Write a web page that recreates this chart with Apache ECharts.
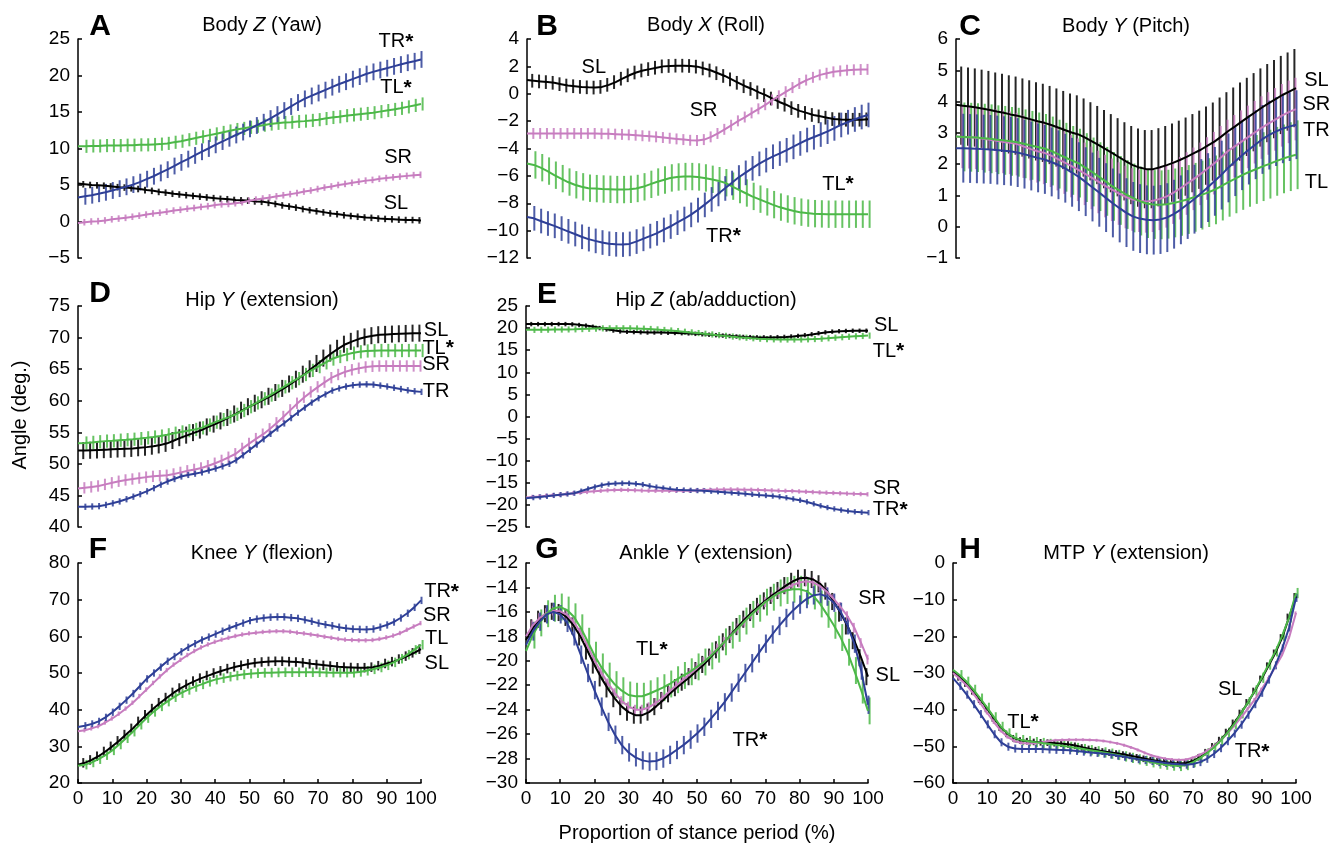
<!DOCTYPE html>
<html>
<head>
<meta charset="utf-8">
<script src="https://cdn.jsdelivr.net/npm/echarts@6/dist/echarts.min.js"></script>
<style>
  html, body { margin: 0; background: #fff; }
  #main { width: 1332px; height: 846px; }
</style>
</head>
<body>
<div id="main"></div>
<script>
// proportion of stance period (%), one sample every 2 %
const pct = [0,2,4,6,8,10,12,14,16,18,20,22,24,26,28,30,32,34,36,38,40,42,44,46,48,50,
  52,54,56,58,60,62,64,66,68,70,72,74,76,78,80,82,84,86,88,90,92,94,96,98,100];
const xTicks = [0,10,20,30,40,50,60,70,80,90,100];

// A  Body Z (yaw)
const yawSL = [5.2,5.1,5.0,4.95,4.9,4.8,4.7,4.65,4.55,4.45,4.3,4.2,4.05,3.95,3.8,3.7,3.6,3.5,3.4,3.3,3.2,3.1,3.05,2.95,2.9,2.85,2.75,2.7,2.55,2.4,2.2,2.05,1.9,1.7,1.55,1.4,1.25,1.1,1.0,0.85,0.75,0.65,0.55,0.5,0.4,0.35,0.3,0.25,0.2,0.2,0.15];
const yawSR = [-0.2,-0.1,0.0,0.05,0.15,0.3,0.4,0.5,0.65,0.8,0.95,1.1,1.2,1.35,1.5,1.6,1.75,1.85,2.0,2.1,2.25,2.35,2.4,2.5,2.65,2.85,3.0,3.15,3.3,3.45,3.6,3.75,3.9,4.1,4.25,4.45,4.65,4.8,5.0,5.15,5.3,5.45,5.6,5.7,5.85,5.95,6.05,6.15,6.25,6.35,6.4];
const yawTL = [10.3,10.3,10.35,10.35,10.4,10.4,10.4,10.45,10.45,10.5,10.5,10.55,10.6,10.7,10.85,11.0,11.2,11.4,11.6,11.8,12.0,12.2,12.4,12.6,12.75,12.9,13.05,13.2,13.35,13.45,13.55,13.6,13.7,13.75,13.85,13.95,14.1,14.25,14.35,14.5,14.6,14.7,14.8,14.9,15.05,15.2,15.35,15.5,15.7,15.9,16.1];
const yawTR = [3.3,3.45,3.6,3.8,4.0,4.25,4.5,4.75,5.05,5.4,5.8,6.2,6.65,7.1,7.6,8.1,8.55,9.05,9.55,10.0,10.5,10.95,11.4,11.85,12.25,12.7,13.15,13.6,14.1,14.65,15.2,15.75,16.3,16.8,17.2,17.6,18.0,18.4,18.8,19.15,19.5,19.85,20.2,20.5,20.75,21.0,21.25,21.5,21.75,21.95,22.2];
const yawSD = [0.45, 0.45, 0.9, 1.15];
const yawTicks = [-5,0,5,10,15,20,25];

// B  Body X (roll)
const rollSL = [1.0,0.95,0.9,0.85,0.8,0.7,0.6,0.55,0.5,0.47,0.45,0.5,0.65,0.85,1.1,1.35,1.55,1.7,1.8,1.9,2.0,2.03,2.05,2.05,2.03,1.98,1.85,1.7,1.5,1.3,1.05,0.8,0.55,0.35,0.1,-0.1,-0.35,-0.6,-0.8,-1.05,-1.25,-1.4,-1.55,-1.65,-1.75,-1.85,-1.88,-1.9,-1.9,-1.9,-1.87];
const rollSR = [-2.9,-2.9,-2.9,-2.9,-2.9,-2.9,-2.9,-2.9,-2.9,-2.9,-2.9,-2.92,-2.93,-2.95,-2.97,-3.0,-3.03,-3.07,-3.1,-3.15,-3.2,-3.25,-3.3,-3.35,-3.4,-3.42,-3.35,-3.15,-2.9,-2.6,-2.3,-1.98,-1.7,-1.4,-1.1,-0.8,-0.45,-0.15,0.15,0.45,0.75,1.0,1.2,1.38,1.5,1.6,1.67,1.72,1.75,1.77,1.78];
const rollTL = [-5.1,-5.2,-5.4,-5.65,-5.95,-6.2,-6.45,-6.65,-6.8,-6.9,-6.93,-6.96,-6.98,-7.0,-7.0,-6.98,-6.92,-6.8,-6.62,-6.45,-6.3,-6.15,-6.08,-6.05,-6.05,-6.08,-6.15,-6.25,-6.35,-6.5,-6.75,-7.0,-7.25,-7.5,-7.7,-7.9,-8.1,-8.28,-8.42,-8.55,-8.65,-8.72,-8.76,-8.78,-8.8,-8.8,-8.8,-8.8,-8.8,-8.8,-8.8];
const rollTR = [-9.0,-9.1,-9.3,-9.48,-9.65,-9.85,-10.05,-10.25,-10.45,-10.62,-10.75,-10.87,-10.96,-11.0,-11.02,-10.97,-10.8,-10.6,-10.4,-10.2,-9.95,-9.7,-9.42,-9.15,-8.85,-8.5,-8.12,-7.72,-7.32,-6.92,-6.52,-6.12,-5.78,-5.45,-5.12,-4.85,-4.6,-4.37,-4.13,-3.88,-3.63,-3.38,-3.18,-2.98,-2.77,-2.53,-2.28,-2.08,-1.88,-1.7,-1.55];
const rollSD = [0.5, 0.4, 1.0, 0.9];
const rollTicks = [-12,-10,-8,-6,-4,-2,0,2,4];

// C  Body Y (pitch)
const pitchSL = [3.9,3.87,3.84,3.81,3.77,3.73,3.68,3.64,3.59,3.55,3.49,3.43,3.37,3.32,3.25,3.17,3.09,3.01,2.95,2.85,2.73,2.61,2.48,2.35,2.22,2.09,1.97,1.89,1.84,1.84,1.9,1.97,2.05,2.14,2.24,2.35,2.46,2.59,2.72,2.88,3.05,3.2,3.36,3.51,3.66,3.81,3.95,4.08,4.21,4.32,4.43];
const pitchSR = [2.88,2.87,2.86,2.84,2.81,2.78,2.75,2.71,2.68,2.64,2.56,2.48,2.41,2.36,2.27,2.16,2.05,1.94,1.82,1.69,1.56,1.43,1.3,1.18,1.06,0.95,0.87,0.83,0.81,0.83,0.89,0.97,1.09,1.23,1.38,1.53,1.69,1.86,2.03,2.22,2.42,2.57,2.72,2.87,3.02,3.17,3.3,3.43,3.56,3.67,3.76];
const pitchTL = [2.88,2.87,2.86,2.85,2.83,2.81,2.78,2.76,2.73,2.7,2.65,2.6,2.55,2.5,2.42,2.32,2.22,2.12,2.03,1.89,1.75,1.6,1.45,1.29,1.16,1.03,0.92,0.82,0.74,0.71,0.7,0.72,0.76,0.81,0.87,0.94,1.01,1.09,1.18,1.3,1.42,1.53,1.64,1.74,1.83,1.92,2.0,2.09,2.17,2.24,2.3];
const pitchTR = [2.51,2.51,2.5,2.49,2.48,2.47,2.45,2.43,2.41,2.37,2.32,2.26,2.2,2.15,2.07,1.98,1.87,1.74,1.6,1.44,1.27,1.1,0.93,0.76,0.6,0.45,0.33,0.26,0.22,0.21,0.23,0.29,0.4,0.54,0.71,0.88,1.06,1.25,1.45,1.65,1.88,2.08,2.27,2.45,2.62,2.79,2.93,3.04,3.13,3.2,3.26];
const pitchSD = [1.25, 1.0, 1.1, 1.1];
const pitchTicks = [-1,0,1,2,3,4,5,6];

// D  Hip Y (extension)
const hipYSL = [52.1,52.1,52.15,52.2,52.25,52.3,52.35,52.4,52.45,52.55,52.65,52.8,53.0,53.25,53.7,54.15,54.55,54.95,55.35,55.85,56.3,56.8,57.35,57.9,58.5,59.05,59.6,60.15,60.7,61.3,61.95,62.65,63.4,64.2,65.05,65.9,66.75,67.55,68.3,68.95,69.4,69.8,70.1,70.3,70.45,70.5,70.55,70.6,70.65,70.7,70.7];
const hipYSR = [46.1,46.2,46.35,46.5,46.75,47.0,47.25,47.45,47.6,47.75,47.9,48.02,48.12,48.2,48.4,48.65,48.9,49.12,49.35,49.7,50.1,50.55,51.05,51.6,52.45,53.25,54.0,54.7,55.55,56.5,57.5,58.55,59.6,60.55,61.4,62.2,62.95,63.65,64.15,64.6,64.9,65.15,65.35,65.45,65.5,65.5,65.5,65.5,65.5,65.5,65.5];
const hipYTL = [53.25,53.3,53.4,53.5,53.6,53.65,53.75,53.82,53.9,54.0,54.12,54.25,54.4,54.6,54.85,55.05,55.25,55.45,55.7,56.15,56.6,57.0,57.4,57.85,58.45,59.05,59.65,60.3,60.9,61.55,62.2,62.85,63.5,64.15,64.8,65.4,66.0,66.6,67.0,67.3,67.55,67.75,67.88,67.92,67.95,67.95,67.95,67.95,67.95,67.95,67.95];
const hipYTR = [43.2,43.2,43.25,43.3,43.5,43.75,44.05,44.4,44.8,45.2,45.65,46.15,46.7,47.2,47.6,48.0,48.25,48.45,48.65,48.95,49.25,49.6,50.0,50.55,51.35,52.2,53.05,53.9,54.75,55.6,56.4,57.25,58.1,58.9,59.7,60.4,61.0,61.6,61.95,62.25,62.45,62.55,62.6,62.55,62.4,62.25,62.05,61.85,61.65,61.5,61.4];
const hipYSD = [1.35, 0.9, 1.05, 0.5];
const hipYTicks = [40,45,50,55,60,65,70,75];

// E  Hip Z (ab/adduction)
const hipZSL = [20.9,20.9,20.9,20.9,20.9,20.9,20.9,20.85,20.7,20.55,20.3,20.0,19.7,19.45,19.25,19.15,19.1,19.05,19.0,19.0,18.98,18.95,18.9,18.85,18.8,18.7,18.6,18.5,18.4,18.3,18.2,18.1,18.0,17.95,17.9,17.9,17.9,17.95,18.0,18.1,18.25,18.4,18.6,18.85,19.05,19.2,19.3,19.35,19.4,19.4,19.4];
const hipZSR = [-18.3,-18.2,-18.1,-17.95,-17.8,-17.68,-17.52,-17.36,-17.2,-17.05,-16.92,-16.8,-16.7,-16.64,-16.6,-16.62,-16.68,-16.74,-16.78,-16.8,-16.8,-16.8,-16.8,-16.8,-16.78,-16.72,-16.65,-16.58,-16.52,-16.5,-16.5,-16.52,-16.55,-16.58,-16.62,-16.67,-16.72,-16.78,-16.83,-16.88,-16.95,-17.02,-17.1,-17.17,-17.24,-17.3,-17.37,-17.44,-17.5,-17.55,-17.6];
const hipZTL = [19.6,19.6,19.62,19.64,19.66,19.68,19.7,19.72,19.78,19.84,19.9,19.94,19.95,19.96,19.96,19.95,19.92,19.88,19.8,19.7,19.58,19.46,19.33,19.18,19.03,18.88,18.72,18.56,18.4,18.24,18.08,17.94,17.82,17.7,17.6,17.52,17.46,17.43,17.42,17.42,17.43,17.46,17.52,17.6,17.7,17.82,17.93,18.04,18.14,18.22,18.3];
const hipZTR = [-18.5,-18.35,-18.2,-18.05,-17.85,-17.68,-17.52,-17.35,-16.9,-16.4,-15.95,-15.55,-15.28,-15.15,-15.1,-15.12,-15.22,-15.4,-15.7,-15.98,-16.2,-16.42,-16.56,-16.64,-16.7,-16.76,-16.82,-16.9,-17.0,-17.12,-17.25,-17.37,-17.5,-17.62,-17.75,-17.87,-18.0,-18.15,-18.38,-18.65,-18.95,-19.3,-19.75,-20.2,-20.6,-20.9,-21.17,-21.38,-21.55,-21.67,-21.75];
const hipZSD = [0.5, 0.5, 0.7, 0.6];
const hipZTicks = [-25,-20,-15,-10,-5,0,5,10,15,20,25];

// F  Knee Y (flexion)
const kneeSL = [25.0,25.5,26.3,27.3,28.6,30.0,31.5,33.2,34.9,36.8,38.6,40.3,41.9,43.3,44.7,45.9,46.9,47.8,48.6,49.3,50.0,50.6,51.2,51.7,52.1,52.5,52.8,53.0,53.15,53.2,53.2,53.1,53.0,52.8,52.5,52.3,52.1,51.9,51.7,51.6,51.5,51.4,51.45,51.6,52.0,52.6,53.1,53.8,54.6,55.5,56.5];
const kneeSR = [34.1,34.4,34.9,35.5,36.5,37.6,38.9,40.3,41.9,43.7,45.5,47.3,49.1,50.8,52.3,53.6,54.9,56.0,57.0,57.8,58.5,59.1,59.6,60.1,60.5,60.8,61.0,61.2,61.35,61.4,61.4,61.25,61.0,60.8,60.5,60.2,59.9,59.6,59.3,59.1,59.0,58.9,58.9,59.0,59.3,59.7,60.2,60.9,61.8,62.7,63.6];
const kneeTL = [24.7,25.0,25.6,26.5,27.6,28.9,30.5,32.2,34.0,35.9,37.7,39.4,40.9,42.2,43.4,44.5,45.4,46.2,46.9,47.6,48.2,48.6,49.0,49.3,49.6,49.8,49.95,50.05,50.1,50.15,50.2,50.2,50.2,50.2,50.2,50.2,50.15,50.1,50.1,50.1,50.1,50.3,50.6,51.0,51.5,52.1,52.9,53.9,55.0,56.3,57.7];
const kneeTR = [35.3,35.6,36.1,36.8,37.9,39.3,40.9,42.6,44.4,46.4,48.4,50.0,51.6,53.2,54.5,55.8,57.0,58.0,59.0,59.8,60.6,61.4,62.2,62.9,63.6,64.3,64.7,65.0,65.2,65.3,65.3,65.1,64.9,64.5,64.1,63.6,63.2,62.9,62.5,62.2,62.0,61.9,61.85,62.0,62.5,63.1,63.9,65.0,66.3,67.9,69.8];
const kneeSD = [1.3, 0.6, 1.3, 1.0];
const kneeTicks = [20,30,40,50,60,70,80];

// G  Ankle Y (extension)
const ankleSL = [-18.3,-17.3,-16.6,-16.15,-15.95,-16.05,-16.45,-17.15,-18.05,-19.2,-20.35,-21.4,-22.3,-23.1,-23.75,-24.2,-24.45,-24.45,-24.2,-23.75,-23.25,-22.7,-22.2,-21.75,-21.3,-20.8,-20.3,-19.7,-19.1,-18.45,-17.85,-17.2,-16.6,-16.05,-15.55,-15.1,-14.65,-14.25,-13.85,-13.5,-13.25,-13.2,-13.35,-13.7,-14.3,-15.15,-16.1,-17.15,-18.35,-19.75,-21.3];
const ankleSR = [-18.0,-17.1,-16.5,-16.1,-15.9,-15.95,-16.25,-16.85,-17.7,-18.8,-19.95,-20.95,-21.85,-22.65,-23.3,-23.75,-24.0,-24.0,-23.8,-23.45,-23.0,-22.5,-22.0,-21.55,-21.05,-20.6,-20.1,-19.55,-19.0,-18.45,-17.9,-17.35,-16.8,-16.2,-15.7,-15.2,-14.8,-14.4,-14.1,-13.8,-13.6,-13.5,-13.6,-13.9,-14.35,-14.95,-15.6,-16.35,-17.3,-18.55,-19.9];
const ankleTL = [-19.2,-17.9,-16.9,-16.15,-15.7,-15.6,-15.85,-16.4,-17.3,-18.4,-19.55,-20.5,-21.25,-21.95,-22.45,-22.8,-22.9,-22.9,-22.7,-22.45,-22.2,-21.9,-21.55,-21.2,-20.9,-20.5,-20.1,-19.6,-19.05,-18.45,-17.9,-17.35,-16.75,-16.2,-15.7,-15.2,-14.8,-14.45,-14.25,-14.15,-14.15,-14.3,-14.7,-15.35,-16.2,-17.1,-18.1,-19.3,-20.8,-22.4,-24.1];
const ankleTR = [-18.7,-17.6,-16.8,-16.2,-16.0,-16.2,-16.9,-18.0,-19.5,-21.0,-22.4,-23.75,-25.0,-26.05,-26.9,-27.5,-27.9,-28.15,-28.25,-28.2,-28.0,-27.7,-27.3,-26.9,-26.45,-25.95,-25.4,-24.75,-24.1,-23.4,-22.6,-21.8,-21.0,-20.2,-19.4,-18.6,-17.85,-17.15,-16.5,-15.9,-15.4,-14.95,-14.65,-14.55,-14.75,-15.25,-16.0,-17.1,-18.6,-20.8,-23.6];
const ankleSD = [0.7, 0.4, 1.1, 0.75];
const ankleTicks = [-30,-28,-26,-24,-22,-20,-18,-16,-14,-12];

// H  MTP Y (extension)
const mtpSL = [-29.8,-31.2,-32.9,-35.0,-37.3,-39.8,-42.4,-44.9,-46.6,-47.8,-48.4,-48.6,-48.8,-48.9,-49.0,-49.15,-49.3,-49.5,-49.85,-50.3,-50.7,-51.05,-51.4,-51.7,-51.95,-52.25,-52.6,-53.0,-53.4,-53.75,-54.05,-54.35,-54.55,-54.65,-54.55,-54.0,-53.0,-51.6,-50.0,-48.3,-46.1,-43.6,-40.9,-38.0,-34.9,-31.6,-28.0,-24.5,-20.3,-14.7,-9.1];
const mtpSR = [-30.0,-31.6,-33.4,-35.7,-38.3,-40.9,-43.5,-45.8,-47.5,-48.6,-49.1,-49.2,-49.15,-48.9,-48.55,-48.35,-48.25,-48.2,-48.2,-48.2,-48.25,-48.35,-48.55,-48.85,-49.2,-49.7,-50.3,-51.0,-51.8,-52.5,-53.0,-53.35,-53.6,-53.7,-53.6,-53.1,-52.3,-51.3,-50.0,-48.4,-46.5,-44.4,-42.1,-39.7,-37.2,-34.4,-31.5,-28.3,-25.0,-20.3,-13.6];
const mtpTL = [-29.1,-30.6,-32.4,-34.6,-37.0,-39.5,-42.1,-44.7,-46.5,-47.7,-48.3,-48.6,-48.85,-49.1,-49.35,-49.6,-49.85,-50.15,-50.45,-50.75,-51.05,-51.35,-51.65,-52.0,-52.35,-52.75,-53.15,-53.55,-53.95,-54.35,-54.7,-55.0,-55.25,-55.35,-55.1,-54.3,-53.2,-51.9,-50.4,-48.5,-46.3,-43.9,-41.0,-38.0,-34.8,-31.3,-27.7,-24.1,-19.8,-14.8,-8.2];
const mtpTR = [-31.4,-33.5,-35.9,-38.5,-41.2,-44.0,-46.7,-48.9,-50.1,-50.6,-50.7,-50.7,-50.7,-50.75,-50.85,-50.95,-51.0,-51.1,-51.25,-51.45,-51.65,-51.8,-52.0,-52.25,-52.55,-52.85,-53.2,-53.5,-53.75,-54.0,-54.3,-54.55,-54.75,-54.9,-55.0,-54.8,-54.3,-53.4,-52.1,-50.5,-48.6,-46.5,-44.1,-41.4,-38.5,-35.4,-31.8,-27.9,-23.3,-17.6,-9.5];
const mtpSD = [0.9, 0.4, 1.4, 1.1];
const mtpTicks = [-60,-50,-40,-30,-20,-10,0];

const groups = ['SL', 'SR', 'TL', 'TR'];
const colors = { SL: '#000000', SR: '#c77cbf', TL: '#4cb848', TR: '#2e3f97' };
const barShift = { SL: -1.6, SR: -0.5, TL: 1.6, TR: 0.5 }; // px, so the bars of the four groups sit side by side
const FONT = '"Liberation Sans", Arial, Helvetica, sans-serif';

// layout: grid box [left, top, width, height], title centre, letter centre, tag positions in data units
const panels = [
  { letter: 'A', title: ['Body ', 'Z', ' (Yaw)'], lines: [yawSL, yawSR, yawTL, yawTR], sd: yawSD, ticks: yawTicks,
    box: [78, 39, 343, 219], tx: 262, ty: 25, lx: 100, ly: 27, xAxis: false,
    tags: [['TR*', 92.7, 24.6], ['TL*', 92.7, 18.3], ['SR', 93.3, 8.8], ['SL', 92.7, 2.4]] },
  { letter: 'B', title: ['Body ', 'X', ' (Roll)'], lines: [rollSL, rollSR, rollTL, rollTR], sd: rollSD, ticks: rollTicks,
    box: [527, 39, 341, 219], tx: 706, ty: 25, lx: 547, ly: 27, xAxis: false,
    tags: [['SL', 19.6, 1.9], ['SR', 51.8, -1.2], ['TL*', 91.2, -6.6], ['TR*', 57.6, -10.4]] },
  { letter: 'C', title: ['Body ', 'Y', ' (Pitch)'], lines: [pitchSL, pitchSR, pitchTL, pitchTR], sd: pitchSD, ticks: pitchTicks,
    box: [956, 39, 340, 219], tx: 1126, ty: 26, lx: 970, ly: 27, xAxis: false,
    tags: [['SL', 106, 4.66], ['SR', 106, 3.92], ['TR', 106, 3.09], ['TL', 106, 1.4]] },
  { letter: 'D', title: ['Hip ', 'Y', ' (extension)'], lines: [hipYSL, hipYSR, hipYTL, hipYTR], sd: hipYSD, ticks: hipYTicks,
    box: [78, 306, 343, 221], tx: 262, ty: 300, lx: 100, ly: 294, xAxis: false,
    tags: [['SL', 104.4, 71.2], ['TL*', 105, 68.35], ['SR', 104.4, 65.8], ['TR', 104.4, 61.5]] },
  { letter: 'E', title: ['Hip ', 'Z', ' (ab/adduction)'], lines: [hipZSL, hipZSR, hipZTL, hipZTR], sd: hipZSD, ticks: hipZTicks,
    box: [526, 306, 342, 221], tx: 706, ty: 300, lx: 547, ly: 295, xAxis: false,
    tags: [['SL', 105.3, 20.5], ['TL*', 106, 14.8], ['SR', 105.5, -16.2], ['TR*', 106.5, -21.15]] },
  { letter: 'F', title: ['Knee ', 'Y', ' (flexion)'], lines: [kneeSL, kneeSR, kneeTL, kneeTR], sd: kneeSD, ticks: kneeTicks,
    box: [78, 563, 343, 220], tx: 262, ty: 553, lx: 98, ly: 550, xAxis: true,
    tags: [['TR*', 106, 72.1], ['SR', 104.6, 65.8], ['TL', 104.6, 59.5], ['SL', 104.6, 52.7]] },
  { letter: 'G', title: ['Ankle ', 'Y', ' (extension)'], lines: [ankleSL, ankleSR, ankleTL, ankleTR], sd: ankleSD, ticks: ankleTicks,
    box: [526, 563, 342, 220], tx: 706, ty: 553, lx: 547, ly: 550, xAxis: true,
    tags: [['TL*', 36.8, -19.1], ['SR', 101.2, -14.9], ['SL', 105.8, -21.2], ['TR*', 65.5, -26.5]] },
  { letter: 'H', title: ['MTP ', 'Y', ' (extension)'], lines: [mtpSL, mtpSR, mtpTL, mtpTR], sd: mtpSD, ticks: mtpTicks,
    box: [953, 563, 343, 220], tx: 1126, ty: 553, lx: 970, ly: 550, xAxis: true,
    tags: [['TL*', 20.4, -43.4], ['SR', 50.1, -45.8], ['SL', 80.8, -34.6], ['TR*', 87.2, -51.5]] }
];

const minus = v => (v < 0 ? '\u2212' + Math.abs(v) : String(v));
const axisStyle = { color: '#000', width: 1.5 };

function errorBar(shift) {
  return function (params, api) {
    const x = api.value(0), m = api.value(1), s = api.value(2);
    const lo = api.coord([x, m - s]);
    const hi = api.coord([x, m + s]);
    return {
      type: 'line',
      shape: { x1: lo[0] + shift, y1: lo[1], x2: hi[0] + shift, y2: hi[1] },
      style: { stroke: api.visual('color'), lineWidth: 2, opacity: 0.85 }
    };
  };
}

const grid = [], xAxis = [], yAxis = [], series = [], graphic = [];

panels.forEach((p, i) => {
  grid.push({ left: p.box[0], top: p.box[1], width: p.box[2], height: p.box[3] });
  xAxis.push({
    gridIndex: i, type: 'value', min: xTicks[0], max: xTicks[xTicks.length - 1], interval: xTicks[1] - xTicks[0],
    show: p.xAxis,
    axisLine: { onZero: false, lineStyle: axisStyle },
    axisTick: { inside: true, length: 4, lineStyle: axisStyle },
    axisLabel: { color: '#000', fontSize: 19, fontFamily: FONT, margin: 6 },
    splitLine: { show: false }
  });
  yAxis.push({
    gridIndex: i, type: 'value', min: p.ticks[0], max: p.ticks[p.ticks.length - 1], interval: p.ticks[1] - p.ticks[0],
    axisLine: { show: true, onZero: false, lineStyle: axisStyle },
    axisTick: { show: true, inside: true, length: 4, lineStyle: axisStyle },
    axisLabel: { color: '#000', fontSize: 19, fontFamily: FONT, margin: 8, formatter: minus },
    splitLine: { show: false }
  });

  groups.forEach((g, k) => {
    const vals = p.lines[k];
    series.push({
      type: 'custom', xAxisIndex: i, yAxisIndex: i, silent: true,
      itemStyle: { color: colors[g] },
      renderItem: errorBar(barShift[g]),
      data: pct.slice(1).map((x, j) => [x, vals[j + 1], p.sd[k]])
    });
    series.push({
      type: 'line', xAxisIndex: i, yAxisIndex: i, silent: true,
      symbol: 'none', showSymbol: false,
      lineStyle: { color: colors[g], width: 2 },
      itemStyle: { color: colors[g] },
      data: pct.map((x, j) => [x, vals[j]])
    });
  });

  graphic.push({
    type: 'text', x: p.lx, y: p.ly,
    style: { text: p.letter, font: 'bold 30px ' + FONT, fill: '#000', align: 'center', verticalAlign: 'middle' }
  });
  graphic.push({
    type: 'text', x: p.tx, y: p.ty,
    style: {
      text: '{n|' + p.title[0] + '}{i|' + p.title[1] + '}{n|' + p.title[2] + '}',
      align: 'center', verticalAlign: 'middle',
      rich: {
        n: { fontSize: 20, fontFamily: FONT, fill: '#000' },
        i: { fontSize: 20, fontFamily: FONT, fontStyle: 'italic', fill: '#000' }
      }
    }
  });
});

graphic.push({
  type: 'text', x: 20, y: 415, rotation: Math.PI / 2,
  style: { text: 'Angle (deg.)', font: '20px ' + FONT, fill: '#000', align: 'center', verticalAlign: 'middle' }
});
graphic.push({
  type: 'text', x: 697, y: 833,
  style: { text: 'Proportion of stance period (%)', font: '20px ' + FONT, fill: '#000', align: 'center', verticalAlign: 'middle' }
});

const chart = echarts.init(document.getElementById('main'));
chart.setOption({
  animation: false,
  backgroundColor: '#fff',
  grid, xAxis, yAxis, series, graphic
});

// curve tags: placed in data units through each panel's own axes
const tagText = [];
panels.forEach((p, i) => {
  p.tags.forEach(t => {
    const pos = chart.convertToPixel({ gridIndex: i }, [t[1], t[2]]);
    const star = t[0].endsWith('*');
    tagText.push({
      type: 'text', x: pos[0], y: pos[1],
      style: {
        text: star ? '{t|' + t[0].slice(0, -1) + '}{s|*}' : '{t|' + t[0] + '}',
        align: 'center', verticalAlign: 'middle',
        rich: {
          t: { fontSize: 20, fontFamily: FONT, fill: '#000' },
          s: { fontSize: 21, fontFamily: FONT, fontWeight: 'bold', fill: '#000' }
        }
      }
    });
  });
});
chart.setOption({ graphic: graphic.concat(tagText) });
</script>
</body>
</html>
